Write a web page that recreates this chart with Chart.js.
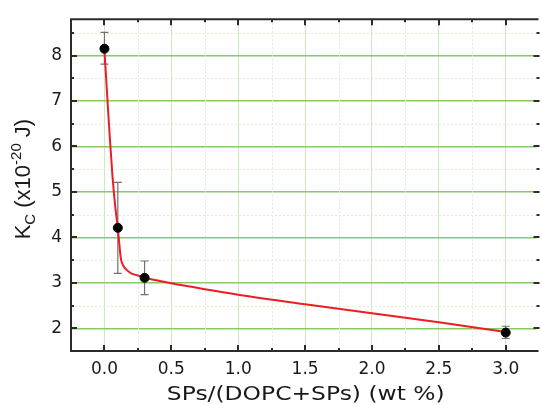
<!DOCTYPE html>
<html>
<head>
<meta charset="utf-8">
<script src="https://cdn.jsdelivr.net/npm/chart.js@4/dist/chart.umd.min.js"></script>
<style>
  html, body { margin: 0; padding: 0; background: #ffffff; }
  #wrap { width: 542px; height: 405px; position: relative; }
</style>
</head>
<body>
<div id="wrap"><canvas id="c" width="542" height="405"></canvas></div>
<script>
// ---- data ----
const xData = [0, 0.1, 0.3, 3.0];
const yData = [8.15, 4.21, 3.11, 1.905];
const errPlus = [0.36, 1.0, 0.37, 0.14];
const errMinus = [0.34, 1.0, 0.37, 0.13];

const fitX = [0, 0.02, 0.04, 0.06, 0.08, 0.1, 0.11, 0.117, 0.125, 0.14, 0.16, 0.2, 0.25, 0.3, 0.4, 0.5, 0.75, 1.0, 1.5, 2.0, 2.5, 3.0];
const fitY = [8.12, 7.15, 6.2, 5.35, 4.7, 4.2, 3.9, 3.67, 3.5, 3.38, 3.3, 3.21, 3.16, 3.11, 3.05, 2.99, 2.86, 2.74, 2.53, 2.33, 2.13, 1.92];

const xTickValues = [0, 0.5, 1.0, 1.5, 2.0, 2.5, 3.0];
const xTickLabels = ['0.0', '0.5', '1.0', '1.5', '2.0', '2.5', '3.0'];
const xMinorValues = [0.25, 0.75, 1.25, 1.75, 2.25, 2.75];
const yTickValues = [2, 3, 4, 5, 6, 7, 8];
const yTickLabels = ['2', '3', '4', '5', '6', '7', '8'];
const yMinorValues = [2.5, 3.5, 4.5, 5.5, 6.5, 7.5, 8.5];

const xTitle = 'SPs/(DOPC+SPs) (wt %)';
const yTitleParts = [['K', 0], ['C', 1], [' (x10', 0], ['-20', -1], [' J)', 0]];

const FONT = "'Liberation Sans', Arial, sans-serif";
const TICKFONT = "'DejaVu Sans', sans-serif";

const decor = {
  id: 'decor',
  beforeDatasetsDraw(chart) {
    const { ctx, chartArea: a, scales: { x, y } } = chart;
    ctx.save();
    // minor dotted grid
    ctx.strokeStyle = '#dcefd0';
    ctx.lineWidth = 1;
    ctx.setLineDash([2, 2]);
    xMinorValues.forEach(v => {
      const px = Math.round(x.getPixelForValue(v)) + 0.5;
      ctx.beginPath(); ctx.moveTo(px, a.top); ctx.lineTo(px, a.bottom); ctx.stroke();
    });
    yMinorValues.forEach(v => {
      const py = Math.round(y.getPixelForValue(v)) + 0.5;
      ctx.beginPath(); ctx.moveTo(a.left, py); ctx.lineTo(a.right, py); ctx.stroke();
    });
    ctx.setLineDash([]);
    // error bars
    ctx.strokeStyle = '#707070';
    ctx.lineWidth = 1.2;
    xData.forEach((xv, i) => {
      const px = x.getPixelForValue(xv);
      const top = y.getPixelForValue(yData[i] + errPlus[i]);
      const bot = y.getPixelForValue(yData[i] - errMinus[i]);
      ctx.beginPath();
      ctx.moveTo(px, top); ctx.lineTo(px, bot);
      ctx.moveTo(px - 4, top); ctx.lineTo(px + 4, top);
      ctx.moveTo(px - 4, bot); ctx.lineTo(px + 4, bot);
      ctx.stroke();
    });
    ctx.restore();
  },
  afterDraw(chart) {
    const { ctx, chartArea: a, scales: { x, y } } = chart;
    ctx.save();
    ctx.strokeStyle = '#2b2b2b';
    ctx.lineWidth = 2;
    // frame (right side falls outside the picture)
    ctx.beginPath();
    ctx.moveTo(a.right + 2, a.top); ctx.lineTo(a.left, a.top); ctx.lineTo(a.left, a.bottom); ctx.lineTo(a.right + 2, a.bottom);
    ctx.stroke();
    // inward ticks
    const tickX = (v, len) => {
      const px = Math.round(x.getPixelForValue(v));
      ctx.beginPath();
      ctx.moveTo(px, a.bottom); ctx.lineTo(px, a.bottom - len);
      ctx.moveTo(px, a.top); ctx.lineTo(px, a.top + len);
      ctx.stroke();
    };
    const tickY = (v, len) => {
      const py = Math.round(y.getPixelForValue(v));
      ctx.beginPath();
      ctx.moveTo(a.left, py); ctx.lineTo(a.left + len, py);
      ctx.moveTo(a.right + 3, py); ctx.lineTo(a.right + 3 - len, py);
      ctx.stroke();
    };
    xTickValues.forEach(v => tickX(v, 6));
    xMinorValues.forEach(v => tickX(v, 3));
    yTickValues.forEach(v => tickY(v, 6));
    yMinorValues.forEach(v => tickY(v, 3));

    // x title (slightly wide lettering, as in the reference)
    ctx.fillStyle = '#1a1a1a';
    ctx.save();
    ctx.font = '20px ' + TICKFONT;
    ctx.textAlign = 'center';
    ctx.textBaseline = 'alphabetic';
    ctx.translate((a.left + a.right + 4) / 2, 400);
    ctx.scale(1.17, 1);
    ctx.fillText(xTitle, 0, 0);
    ctx.restore();

    // y title (rotated, with sub/superscripts)
    const big = '22px ' + FONT, small = '15px ' + FONT;
    let total = 0;
    yTitleParts.forEach(([t, k]) => { ctx.font = k ? small : big; total += ctx.measureText(t).width; });
    ctx.translate(30, (a.top + a.bottom) / 2 - 6);
    ctx.rotate(-Math.PI / 2);
    ctx.textAlign = 'left';
    let cx = -total / 2;
    yTitleParts.forEach(([t, k]) => {
      ctx.font = k ? small : big;
      const dy = k === 1 ? 5 : (k === -1 ? -9 : 0);
      ctx.fillText(t, cx, dy);
      cx += ctx.measureText(t).width;
    });
    ctx.restore();
  }
};

new Chart(document.getElementById('c'), {
  type: 'scatter',
  data: {
    datasets: [
      {
        label: 'fit',
        data: fitX.map((v, i) => ({ x: v, y: fitY[i] })),
        showLine: true,
        borderColor: '#ee1c25',
        borderWidth: 2,
        pointRadius: 0,
        cubicInterpolationMode: 'monotone',
        order: 2
      },
      {
        label: 'Kc',
        data: xData.map((v, i) => ({ x: v, y: yData[i] })),
        backgroundColor: '#000000',
        borderColor: '#000000',
        pointRadius: 4.5,
        order: 1
      }
    ]
  },
  options: {
    responsive: false,
    animation: false,
    events: [],
    layout: { padding: { top: 12, right: 0, left: 0, bottom: 0 } },
    plugins: { legend: { display: false }, tooltip: { enabled: false } },
    scales: {
      x: {
        type: 'linear',
        min: -0.25,
        max: 3.23,
        afterBuildTicks: s => { s.ticks = xTickValues.map(v => ({ value: v })); },
        afterFit: s => { s.height = 54; },
        ticks: {
          callback: (v) => { const i = xTickValues.indexOf(v); return i >= 0 ? xTickLabels[i] : ''; },
          font: { family: TICKFONT, size: 17 },
          color: '#1a1a1a',
          padding: 8,
          maxRotation: 0
        },
        grid: { color: '#cdeabb', lineWidth: 1, drawTicks: false },
        border: { display: false }
      },
      y: {
        type: 'linear',
        min: 1.5,
        max: 8.8,
        afterBuildTicks: s => { s.ticks = yTickValues.map(v => ({ value: v })); },
        afterFit: s => { s.width = 71; },
        ticks: {
          callback: (v) => { const i = yTickValues.indexOf(v); return i >= 0 ? yTickLabels[i] : ''; },
          font: { family: TICKFONT, size: 17 },
          color: '#1a1a1a',
          padding: 9
        },
        grid: { color: '#86cc5f', lineWidth: 1.5, drawTicks: false },
        border: { display: false }
      }
    }
  },
  plugins: [decor]
});
</script>
</body>
</html>
